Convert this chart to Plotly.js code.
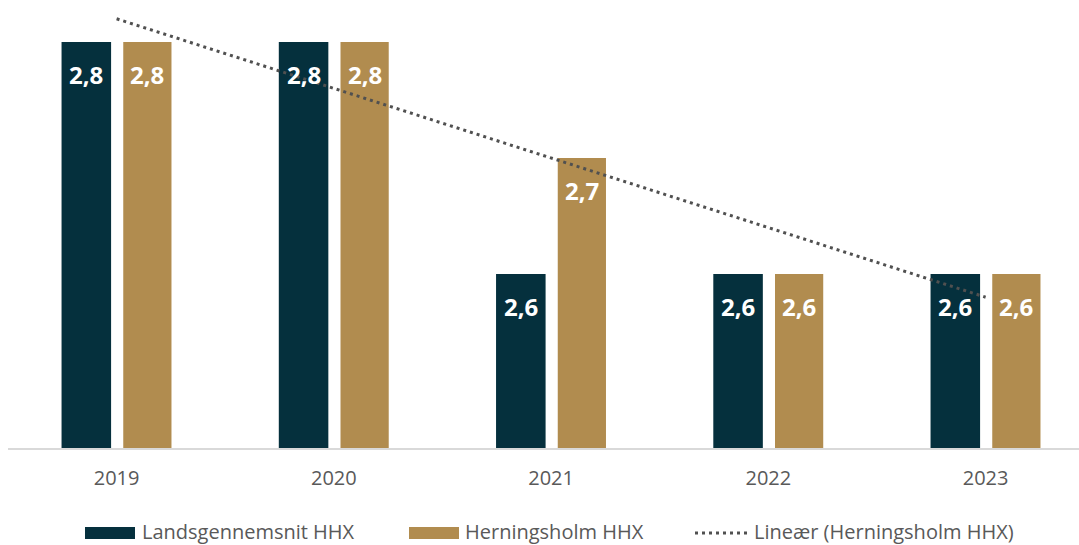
<!DOCTYPE html>
<html>
<head>
<meta charset="utf-8">
<script src="https://cdn.plot.ly/plotly-3.0.1.min.js"></script>
<style>html,body{margin:0;padding:0;background:#fff;}#chart{width:1079px;height:545px;}</style>
</head>
<body>
<div id="chart"></div>
<script>
const categories = ['2019', '2020', '2021', '2022', '2023'];
const landsgennemsnit = [2.8, 2.8, 2.6, 2.6, 2.6];
const herningsholm = [2.8, 2.8, 2.7, 2.6, 2.6];
const seriesNames = ['Landsgennemsnit HHX', 'Herningsholm HHX', 'Lineær (Herningsholm HHX)'];

const DARK = '#05303D';
const GOLD = '#B18C4F';
const GRAY = '#595959';
const TREND = '#505050';

// Linear trendline (least squares) of Herningsholm HHX
const n = herningsholm.length;
const xs = herningsholm.map((_, i) => i + 1);
const mx = xs.reduce((a, b) => a + b, 0) / n;
const my = herningsholm.reduce((a, b) => a + b, 0) / n;
let sxy = 0, sxx = 0;
for (let i = 0; i < n; i++) { sxy += (xs[i] - mx) * (herningsholm[i] - my); sxx += (xs[i] - mx) ** 2; }
const slope = sxy / sxx, icpt = my - slope * mx;
const trendY = xs.map(x => icpt + slope * x);

const W = 1079, H = 545;
const mL = 8, mR = 0, mT = 10, mB = 97;
const pw = W - mL - mR, ph = H - mT - mB;
const catPx = 217.25;
const yMin = 2.45, pxPerUnit = 1160;

const fmt = v => v.toFixed(1).replace('.', ',');
const DOT = '3px,4px';

const traces = [
  {type: 'bar', x: categories, y: landsgennemsnit, name: seriesNames[0], marker: {color: DARK},
   offset: -0.2535, width: 0.228, showlegend: false, hoverinfo: 'y'},
  {type: 'bar', x: categories, y: herningsholm, name: seriesNames[1], marker: {color: GOLD},
   offset: 0.0305, width: 0.222, showlegend: false, hoverinfo: 'y'},
  {type: 'scatter', mode: 'lines', x: categories, y: trendY, name: seriesNames[2],
   line: {color: TREND, width: 3, dash: DOT}, showlegend: false, hoverinfo: 'skip'}
];

const annotations = [];
categories.forEach((c, i) => {
  annotations.push({x: i - 0.1395, y: landsgennemsnit[i], xref: 'x', yref: 'y', text: fmt(landsgennemsnit[i]),
    showarrow: false, yanchor: 'middle', yshift: -32, font: {family: 'Open Sans', size: 24, color: '#ffffff', weight: 700}});
  annotations.push({x: i + 0.1415, y: herningsholm[i], xref: 'x', yref: 'y', text: fmt(herningsholm[i]),
    showarrow: false, yanchor: 'middle', yshift: -32, font: {family: 'Open Sans', size: 24, color: '#ffffff', weight: 700}});
});

// custom legend (pixel positions converted to paper coords)
const px2x = p => (p - mL) / pw;
const px2y = p => (H - mB - p) / ph;
const legendItems = [
  {kind: 'box', color: DARK, x0: 85, x1: 135, tx: 141, label: seriesNames[0]},
  {kind: 'box', color: GOLD, x0: 409, x1: 459, tx: 464, label: seriesNames[1]},
  {kind: 'dot', color: TREND, x0: 695, x1: 748, tx: 753, label: seriesNames[2]}
];
const shapes = [];
legendItems.forEach(it => {
  if (it.kind === 'box') {
    shapes.push({type: 'rect', xref: 'paper', yref: 'paper', x0: px2x(it.x0), x1: px2x(it.x1),
      y0: px2y(539), y1: px2y(527), fillcolor: it.color, line: {width: 0}});
  } else {
    shapes.push({type: 'line', xref: 'paper', yref: 'paper', x0: px2x(it.x0), x1: px2x(it.x1),
      y0: px2y(533), y1: px2y(533), line: {color: it.color, width: 3, dash: DOT}});
  }
  annotations.push({xref: 'paper', yref: 'paper', x: px2x(it.tx), y: px2y(531), text: it.label,
    showarrow: false, xanchor: 'left', yanchor: 'middle', borderpad: 0,
    font: {family: 'Open Sans', size: 20, color: GRAY}});
});

const layout = {
  width: W, height: H,
  margin: {l: mL, r: mR, t: mT, b: mB, pad: 0},
  paper_bgcolor: '#ffffff', plot_bgcolor: '#ffffff',
  barmode: 'overlay',
  showlegend: false,
  xaxis: {type: 'category', range: [-0.5, -0.5 + pw / catPx], showgrid: false, zeroline: false,
    showline: true, linecolor: '#D9D9D9', linewidth: 1.5, ticks: '', ticklabelstandoff: 11,
    tickfont: {family: 'Open Sans', size: 20, color: GRAY}, fixedrange: true},
  yaxis: {range: [yMin, yMin + ph / pxPerUnit], showgrid: false, zeroline: false, showline: false,
    showticklabels: false, ticks: '', fixedrange: true},
  annotations: annotations,
  shapes: shapes
};

Plotly.newPlot('chart', traces, layout, {displayModeBar: false, staticPlot: true});
</script>
</body>
</html>
